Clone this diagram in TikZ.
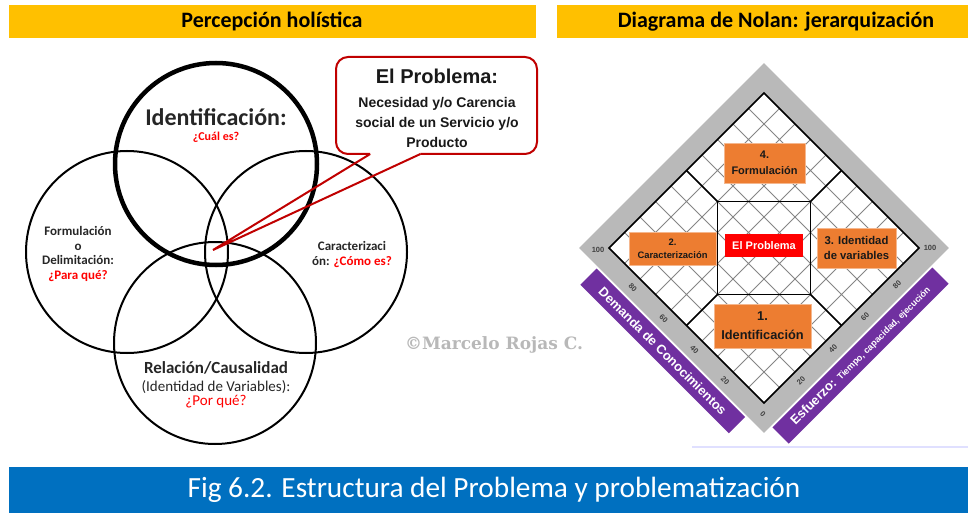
\documentclass[tikz,border=0pt]{standalone}
\usepackage{fontspec}
\setmainfont{Carlito}
\newfontfamily\arialfont{Liberation Sans}
\newfontfamily\marcafont{DejaVu Serif}
\usepackage{tikz}
\usetikzlibrary{calc}
\usetikzlibrary{positioning}
\tikzset{>=latex}
\definecolor{amarillo}{HTML}{FFC000}
\definecolor{azulpie}{HTML}{0070C0}
\definecolor{naranja}{HTML}{ED7D31}
\definecolor{morado}{HTML}{7030A0}
\definecolor{rojoborde}{HTML}{C00000}
\definecolor{grisbanda}{HTML}{B9B9B9}
\definecolor{texto}{HTML}{262626}
\newcommand{\tam}[2]{\fontsize{#1}{#2}\selectfont}

\begin{document}
\begin{tikzpicture}[x=1pt,y=-1pt,
		circulo/.style={circle,draw,line width=2,minimum size=202,inner sep=0},
		txt/.style={text=texto,align=center,inner sep=0},
		rojo/.style={text=red,inner sep=0},
		caja/.style={fill=naranja,draw=naranja!55!white,line width=0.8,align=center,inner sep=0,font=\arialfont\bfseries\tam{11}{15.5},text=black!90},
		numero/.style={font=\arialfont\bfseries\tam{7.5}{9},text=black!75,inner sep=0}]
		\useasboundingbox (0,0) rectangle (968,513);
		\fill[amarillo] (9,5) rectangle (536,38);
		\fill[amarillo] (557,5) rectangle (968,38);
		\node[font=\tam{22}{26}\bfseries] (percepcion) at (272,21.5) {Percepción holística};
		\node[font=\tam{22}{26}\bfseries] (nolan) at (776,21.5) {Diagrama de Nolan: jerarquización};
		\fill[azulpie] (9,467) rectangle (968,513);
		\node[font=\tam{29.3}{32},text=white] (pie) at (494,490) {Fig 6.2. Estructura del Problema y problematización};
		\draw[blue!12,line width=1.2] (692,447) -- (968,447);
		\node[circulo] (formul) at (127,252) {};
		\node[circulo] (caract) at (306,252) {};
		\node[circulo] (relac) at (215,343) {};
		\node[circulo,line width=4.5] (identif) at (216,164) {};
		\node[txt,font=\tam{24}{28}\bfseries] (identifTxt) at (216,117) {Identificación:};
		\node[rojo,font=\tam{12}{14}\bfseries] (identifQ) at (216,137) {¿Cuál es?};
		\node[txt,font=\tam{13}{14.5}\bfseries] (formulTxt) at (78,254) {Formulación\\o\\Delimitación:\\\textcolor{red}{¿Para qué?}};
		\node[txt,font=\tam{13}{15}\bfseries] (caractTxt) at (352,254.5) {Caracterizaci\\ón: \textcolor{red}{¿Cómo es?}};
		\node[txt,font=\tam{17}{20}\bfseries] (relacTxt) at (216,368) {Relación/Causalidad};
		\node[txt,font=\tam{15}{18}] (relacVar) at (216,387) {(Identidad de Variables):};
		\node[rojo,font=\tam{15}{18}] (relacQ) at (216,402) {¿Por qué?};
		\node[fill=white,minimum width=201,minimum height=97,inner sep=0,outer sep=0] (problema) at (436.5,105.5) {};
		\coordinate (punta) at (213,250);
		\coordinate (p1) at ($(problema.south west)!0.17!(problema.south east)$);
		\coordinate (p2) at ($(problema.south west)!0.42!(problema.south east)$);
		\draw[rojoborde,line width=2,rounded corners=12] (p2) -- (problema.south east) -- (problema.north east) -- (problema.north west) -- (problema.south west) -- (p1);
		\draw[rojoborde,line width=2] (p1) -- (punta) -- (p2);
		\node[txt,font=\arialfont\bfseries\tam{20}{24},text=black!90] (problemaTit) at (437,76) {El Problema:};
		\node[txt,font=\arialfont\bfseries\tam{14}{20},text=black!90] (problemaTxt) at (437,122) {Necesidad y/o Carencia\\social de un Servicio y/o\\Producto};
		\node[font=\marcafont\bfseries\tam{17}{20},text=black!28] (marca) at (494,345) {©Marcelo Rojas C.};
		\begin{scope}[shift={(764,248)},rotate=45]
			\fill[grisbanda] (-130.8,-130.8) rectangle (130.8,130.8);
			\fill[white] (-109.6,-109.6) rectangle (109.6,109.6);
			\draw[black!48,line width=0.9,step=21.92pt] (-109.6,-109.6) grid (109.6,109.6);
			\draw[line width=1.5] (-109.6,-109.6) rectangle (109.6,109.6);
		\end{scope}
		\draw[line width=1.5] (717.5,201.5) rectangle (810.5,294.5);
		\foreach \sx/\sy in {-1/-1,1/-1,-1/1,1/1}
			\draw[line width=1.5] ({764+46.5*\sx},{248+46.5*\sy}) -- ({764+77.5*\sx},{248+77.5*\sy});
		\node[caja,minimum width=81,minimum height=40] (formulacion) at (764.5,163) {4.\\Formulación};
		\node[caja,minimum width=87,minimum height=33,font=\arialfont\bfseries\tam{9.4}{13.3}] (caracterizacion) at (672.5,248.5) {2.\\Caracterización};
		\node[caja,minimum width=79,minimum height=40,font=\arialfont\bfseries\tam{11.3}{15.6}] (identidad) at (856.5,248) {3. Identidad\\de variables};
		\node[caja,minimum width=97,minimum height=44,font=\arialfont\bfseries\tam{12.8}{19}] (identificacion) at (762.5,326) {1.\\Identificación};
		\node[fill=red,minimum width=78,minimum height=23,inner sep=0,font=\arialfont\bfseries\tam{11}{13},text=white] (elproblema) at (764,245.5) {El Problema};
		\foreach \v in {20,40,60,80} {
			\node[numero,rotate=-45] (izq\v) at ({756-1.54*\v},{412-1.55*\v}) {\v};
			\node[numero,rotate=45] (der\v) at ({769+1.6*\v},{413-1.6*\v}) {\v};
		}
		\node[numero,rotate=-45] (cero) at (763,414) {0};
		\node[numero] (cienIzq) at (598,250) {100};
		\node[numero] (cienDer) at (930,248) {100};
		\begin{scope}[shift={(579,248)},rotate=-45]
			\fill[morado] (27,2) rectangle (237,25);
			\node[rotate=-45,text=white,font=\arialfont\bfseries\tam{13}{15}] (demanda) at (132,13.5) {Demanda de Conocimientos};
		\end{scope}
		\begin{scope}[shift={(764,433)},rotate=45]
			\fill[morado] (10,2) rectangle (236,25);
			\node[rotate=45,text=white,font=\arialfont\bfseries] (esfuerzo) at (123,13.5) {\tam{13}{15}Esfuerzo: \tam{9}{11}Tiempo, capacidad, ejecución};
		\end{scope}
	\end{tikzpicture}
\end{document}
